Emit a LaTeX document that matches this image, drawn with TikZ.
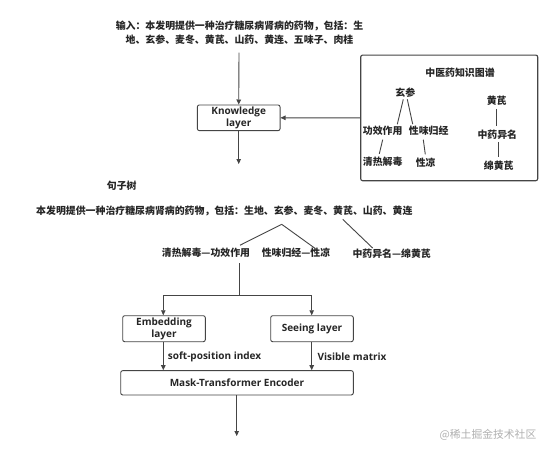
\documentclass[tikz,border=0pt]{standalone}
\usepackage{fontspec}
\setmainfont{Open Sans}
\newfontfamily\cjk{Noto Sans CJK SC}
\usetikzlibrary{arrows.meta}
\definecolor{linec}{HTML}{454545}
\definecolor{textc}{HTML}{262626}
\definecolor{wmc}{HTML}{B0B0B0}
\begin{document}
\begin{tikzpicture}[x=1pt,y=-1pt,
  conn/.style={draw=linec, line width=0.9pt},
  arr/.style={conn, -{Triangle[length=5pt,width=4.5pt]}},
  box/.style={draw=linec, line width=0.9pt, rounded corners=2pt, fill=white, inner sep=0pt, align=center, text=textc,
    font=\bfseries\fontsize{10}{12.4}\selectfont},
  cjkt/.style={inner sep=0pt, text=textc, align=center, font=\cjk\bfseries\fontsize{9.9}{13.3}\selectfont},
  ent/.style={inner sep=0pt, text=textc, anchor=west, font=\bfseries\fontsize{10}{12}\selectfont}]
\useasboundingbox (0,0) rectangle (551,448);
\fill[white] (0,0) rectangle (551,448);

% input text
\node[cjkt] (inp) at (239.5,32.7) {输入：本发明提供一种治疗糖尿病肾病的药物，包括：生\\地、玄参、麦冬、黄芪、山药、黄连、五味子、肉桂};
\coordinate (inpb) at (239,52.7);

% knowledge layer
\node[box, minimum width=82.7pt, minimum height=25.7pt] (kl) at (238.7,117.8) {Knowledge\\layer};
\draw[arr] (inpb) -- (kl.north);

% knowledge graph box
\node[draw=linec, line width=1.1pt, rounded corners=2pt, minimum width=177pt, minimum height=125.7pt, inner sep=0pt] (kg) at (449.2,117.9) {};
\draw[arr] (kg.west) -- (kl.east);
\node[cjkt] (kgt) at (460,72.7) {中医药知识图谱};
\node[cjkt] (xs) at (405.3,92.3) {玄参};
\node[cjkt] (gx) at (382.7,130.7) {功效作用};
\node[cjkt] (xw) at (428.7,130.7) {性味归经};
\node[cjkt] (qr) at (382.7,161.7) {清热解毒};
\node[cjkt] (xl) at (425.7,162.3) {性凉};
\node[cjkt] (hq) at (496.7,101) {黄芪};
\node[cjkt] (zy) at (497.3,135) {中药异名};
\node[cjkt] (mh) at (498.7,166) {绵黄芪};
\draw[conn] ([xshift=-2pt,yshift=-2pt]xs.south) -- ([xshift=14.6pt,yshift=1.5pt]gx.north);
\draw[conn] ([xshift=2pt,yshift=-2pt]xs.south) -- ([xshift=-16pt,yshift=1.5pt]xw.north);
\draw[conn] ([yshift=-4pt]gx.south) -- ([xshift=-3.4pt,yshift=3pt]qr.north);
\draw[conn] ([xshift=-5.4pt,yshift=-4pt]xw.south) -- ([xshift=-0.4pt,yshift=3pt]xl.north);
\draw[conn] ([yshift=-3pt]hq.south) -- ([xshift=-0.6pt,yshift=4pt]zy.north);
\draw[conn] ([xshift=1.4pt,yshift=-2pt]zy.south) -- ([xshift=0pt,yshift=4pt]mh.north);

% arrow down from knowledge layer
\coordinate (klend) at (238.7,164);
\draw[arr] (kl.south) -- (klend);

% sentence tree
\node[cjkt] (st) at (121.7,185.7) {句子树};
\node[cjkt, anchor=west] (sent) at (36,210.7) {本发明提供一种治疗糖尿病肾病的药物，包括：生地、玄参、麦冬、黄芪、山药、黄连};
\node[cjkt] (e1) at (206,252.7) {清热解毒—功效作用};
\node[cjkt] (e2) at (296,252.3) {性味归经—性凉};
\node[cjkt] (e3) at (391.7,254) {中药异名—绵黄芪};
\coordinate (pk) at (281.7,224.3);
\coordinate (hqs) at (342.7,219.3);
\draw[conn] (pk) -- ([xshift=34pt,yshift=2.5pt]e1.north);
\draw[conn] (pk) -- ([xshift=19pt,yshift=-1pt]e2.north);
\draw[conn] (hqs) -- ([xshift=-19pt,yshift=1pt]e3.north);

% branch
\coordinate (vtop) at (239,263.3);
\coordinate (vmid) at (239,295);
\coordinate (bl) at (163.3,295);
\coordinate (br) at (311.7,295);
\node[box, minimum width=82.6pt, minimum height=26pt] (emb) at (164,328.7) {Embedding\\layer};
\node[box, minimum width=82.6pt, minimum height=26pt] (see) at (312,328.7) {Seeing layer};
\node[box, minimum width=232.6pt, minimum height=24.3pt] (mask) at (237,382.8) {Mask-Transformer Encoder};
\draw[conn] (vtop) -- (vmid);
\draw[conn] (bl) -- (br);
\draw[arr] (bl) -- (bl |- emb.north);
\draw[arr] (br) -- (br |- see.north);
\draw[arr] (emb.south -| bl) -- (bl |- mask.north);
\draw[arr] (see.south -| br) -- (br |- mask.north);
\node[ent] (spi) at (167.7,356.7) {soft-position index};
\node[ent] (vm) at (317.3,356.7) {Visible matrix};
\coordinate (outend) at (236.7,436);
\draw[arr] (mask.south -| outend) -- (outend);

% watermark
\node[inner sep=0pt, text=wmc, font=\cjk\fontsize{10.8}{12}\selectfont] (wm) at (488,435) {@稀土掘金技术社区};
\end{tikzpicture}
\end{document}
